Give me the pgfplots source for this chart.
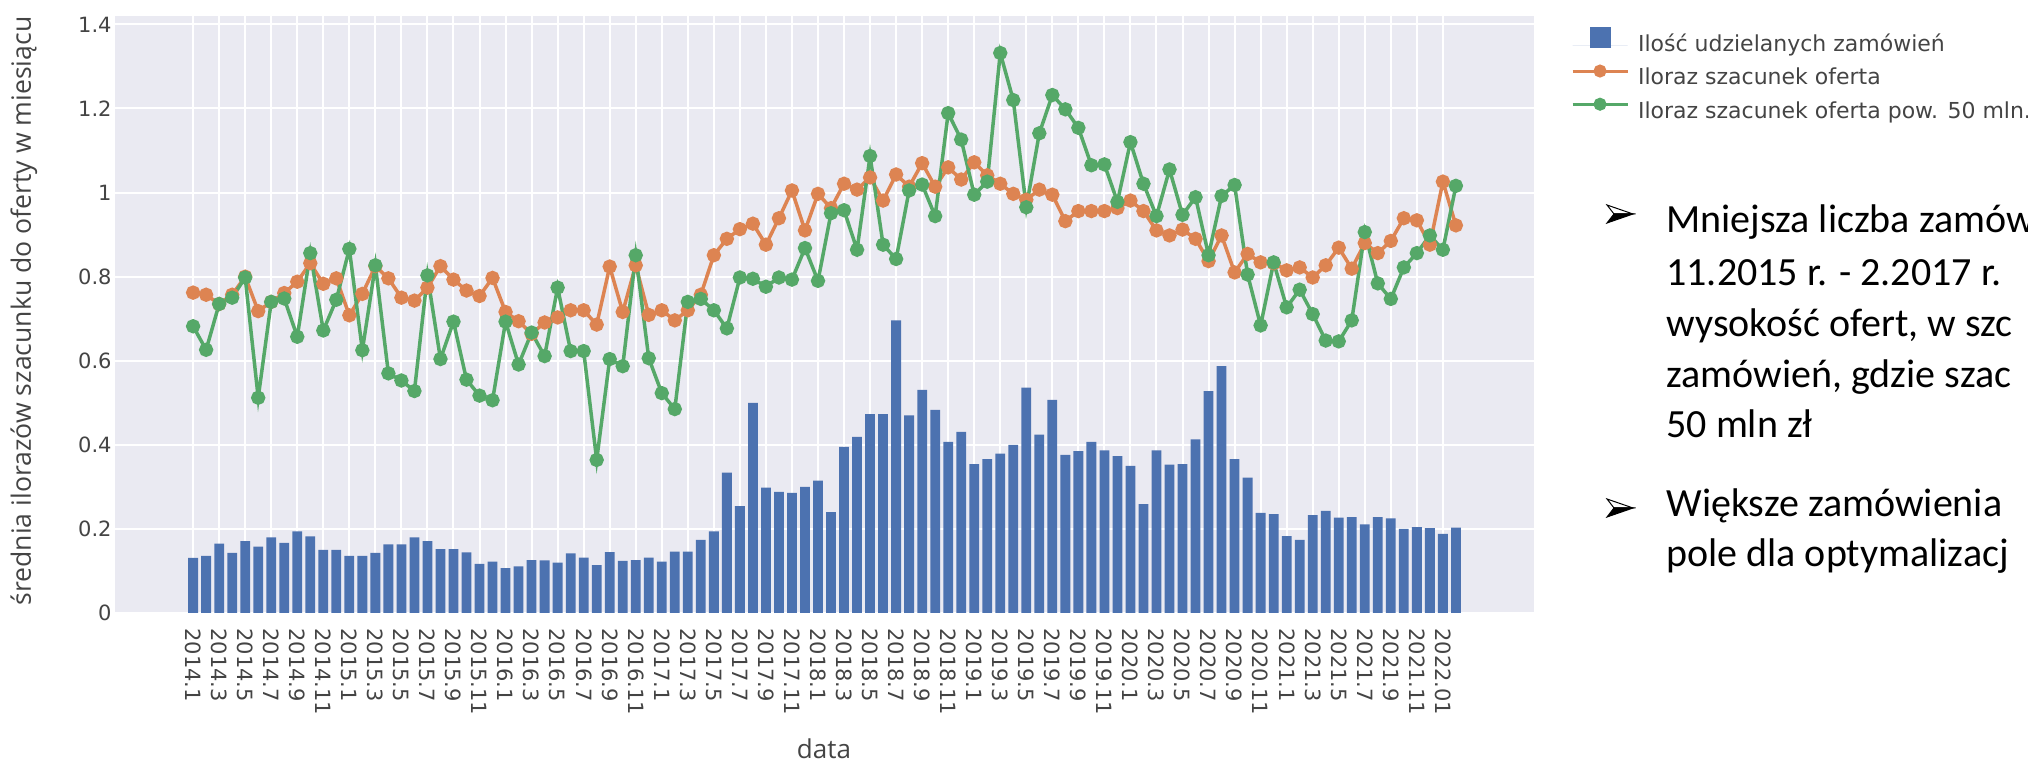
\documentclass[border=0pt]{standalone}
\usepackage{pgfplots}
\pgfplotsset{compat=1.18}
\usepackage{pgfplotstable}
\usepackage{fontspec}
\setmainfont{DejaVu Sans}
\newfontfamily\dejavu{DejaVu Sans}
\newfontfamily\opensans{Open Sans}
\newfontfamily\carlito{Carlito}
\definecolor{plotbg}{HTML}{EAEAF2}
\definecolor{barblue}{HTML}{4C72B0}
\definecolor{lineorange}{HTML}{DD8452}
\definecolor{linegreen}{HTML}{55A868}
\definecolor{tickgray}{HTML}{444444}

\pgfplotsset{
  barlegend/.style={legend image code/.code={\path (0pt,0pt) -- (27.5pt,0pt);
    \fill[barblue] (8.5pt,-1.25pt) rectangle (19pt,9.25pt);}},
  linelegend/.style={legend image code/.code={\draw[##1, mark repeat=2, mark phase=2, line width=1.5pt, mark size=2.5pt]
    plot coordinates {(0pt,4pt) (13.75pt,4pt) (27.5pt,4pt)};}},
}

\pgfplotstableread{
x b o g
0 0.131 0.762 0.682
1 0.136 0.757 0.626
2 0.165 0.735 0.735
3 0.143 0.757 0.750
4 0.171 0.800 0.798
5 0.158 0.718 0.512
6 0.180 0.740 0.740
7 0.167 0.761 0.748
8 0.194 0.788 0.657
9 0.182 0.832 0.856
10 0.150 0.783 0.672
11 0.150 0.796 0.745
12 0.136 0.708 0.866
13 0.136 0.759 0.625
14 0.143 0.825 0.827
15 0.163 0.796 0.570
16 0.163 0.750 0.553
17 0.180 0.743 0.528
18 0.171 0.774 0.803
19 0.152 0.825 0.604
20 0.152 0.793 0.693
21 0.144 0.767 0.555
22 0.117 0.754 0.517
23 0.122 0.797 0.506
24 0.107 0.716 0.693
25 0.111 0.694 0.591
26 0.126 0.664 0.667
27 0.125 0.691 0.611
28 0.120 0.703 0.774
29 0.142 0.720 0.623
30 0.132 0.720 0.623
31 0.114 0.686 0.364
32 0.145 0.824 0.604
33 0.124 0.716 0.587
34 0.126 0.827 0.851
35 0.132 0.709 0.606
36 0.122 0.720 0.523
37 0.146 0.696 0.485
38 0.146 0.720 0.740
39 0.174 0.757 0.747
40 0.194 0.851 0.720
41 0.334 0.890 0.677
42 0.254 0.913 0.798
43 0.500 0.926 0.795
44 0.298 0.876 0.776
45 0.288 0.939 0.798
46 0.286 1.005 0.793
47 0.300 0.910 0.868
48 0.315 0.997 0.790
49 0.240 0.963 0.951
50 0.395 1.021 0.958
51 0.419 1.007 0.864
52 0.473 1.036 1.087
53 0.473 0.981 0.876
54 0.696 1.043 0.842
55 0.470 1.014 1.005
56 0.531 1.070 1.019
57 0.483 1.014 0.944
58 0.407 1.060 1.189
59 0.431 1.031 1.126
60 0.354 1.072 0.995
61 0.366 1.041 1.026
62 0.379 1.021 1.332
63 0.400 0.997 1.220
64 0.536 0.983 0.965
65 0.424 1.007 1.141
66 0.507 0.995 1.232
67 0.376 0.932 1.198
68 0.385 0.956 1.154
69 0.407 0.956 1.065
70 0.387 0.956 1.067
71 0.373 0.963 0.978
72 0.350 0.981 1.120
73 0.259 0.956 1.021
74 0.387 0.910 0.944
75 0.353 0.898 1.055
76 0.354 0.912 0.947
77 0.413 0.890 0.989
78 0.528 0.837 0.851
79 0.587 0.898 0.992
80 0.366 0.810 1.018
81 0.322 0.854 0.805
82 0.238 0.834 0.684
83 0.235 0.832 0.834
84 0.183 0.815 0.727
85 0.174 0.822 0.769
86 0.233 0.798 0.711
87 0.243 0.827 0.648
88 0.227 0.869 0.646
89 0.228 0.819 0.696
90 0.211 0.880 0.906
91 0.228 0.856 0.784
92 0.225 0.885 0.747
93 0.200 0.939 0.822
94 0.204 0.934 0.856
95 0.202 0.876 0.898
96 0.188 1.026 0.864
97 0.203 0.922 1.016
}\datatable

\begin{document}
\begin{tikzpicture}
\path[use as bounding box] (0pt,0pt) rectangle (1014pt,382.5pt);
\begin{axis}[
  at={(57.5pt,76pt)}, anchor=south west,
  scale only axis, width=709.5pt, height=298.5pt,
  xmin=-6, xmax=103, ymin=0, ymax=1.42,
  axis background/.style={fill=plotbg},
  axis line style={draw=none},
  major tick length=0pt,
  grid=major,
  major grid style={white, line width=1pt},
  xtick={0,2,...,96},
  xticklabels={2014.1,2014.3,2014.5,2014.7,2014.9,2014.11,
    2015.1,2015.3,2015.5,2015.7,2015.9,2015.11,
    2016.1,2016.3,2016.5,2016.7,2016.9,2016.11,
    2017.1,2017.3,2017.5,2017.7,2017.9,2017.11,
    2018.1,2018.3,2018.5,2018.7,2018.9,2018.11,
    2019.1,2019.3,2019.5,2019.7,2019.9,2019.11,
    2020.1,2020.3,2020.5,2020.7,2020.9,2020.11,
    2021.1,2021.3,2021.5,2021.7,2021.9,2021.11,
    2022.01},
  ytick={0,0.2,0.4,0.6,0.8,1,1.2,1.4},
  yticklabels={0,0.2,0.4,0.6,0.8,1,1.2,1.4},
  ticklabel style={font=\dejavu\fontsize{10.5}{12}\selectfont, text=tickgray, inner sep=0pt},
  xticklabel style={rotate=-90, anchor=west},
  yticklabel style={anchor=east},
  xticklabel shift=7.5pt, yticklabel shift=1.5pt,
  legend cell align=left,
  legend style={draw=none, fill=none, inner sep=0pt, outer sep=0pt,
    at={(1.02608,0.981)}, anchor=north west,
    font=\dejavu\fontsize{11}{13}\selectfont, text=tickgray,
    row sep=4.6pt, column sep=4.5pt,
    nodes={inner sep=0pt, text height=8.4pt, text depth=2.6pt}},
]
\addplot[ybar, bar width=4.9pt, fill=barblue, draw=none, barlegend]
  table[x=x, y=b]{\datatable};
\addlegendentry{Ilość udzielanych zamówień}
\addplot[color=lineorange, line width=1.75pt, mark=*, mark size=2.7pt, mark options={solid}, linelegend]
  table[x=x, y=o]{\datatable};
\addlegendentry{Iloraz szacunek oferta}
\addplot[color=linegreen, line width=1.75pt, mark=*, mark size=2.7pt, mark options={solid}, linelegend]
  table[x=x, y=g]{\datatable};
\addlegendentry{Iloraz szacunek oferta pow. 50 mln.}
\end{axis}
% axis titles
\node[rotate=90, inner sep=0pt, text=tickgray, font=\opensans\fontsize{13.3}{15}\selectfont]
  at (12pt,227pt) {średnia ilorazów szacunku do oferty w miesiącu};
\node[anchor=base, inner sep=0pt, text=tickgray, font=\opensans\fontsize{13}{15}\selectfont]
  at (412pt,3pt) {data};
% bullet text
\begin{scope}[every node/.style={anchor=base west, inner sep=0pt, font=\carlito\fontsize{20}{24}\selectfont}]
\node at (833pt,266pt) {Mniejsza liczba zamów};
\node at (833pt,239.5pt) {11.2015 r. - 2.2017 r.};
\node at (833pt,214pt) {wysokość ofert, w szc};
\node at (833pt,188.5pt) {zamówień, gdzie szac};
\node at (833pt,163.5pt) {50 mln zł};
\node at (833pt,124pt) {Większe zamówienia};
\node at (833pt,99pt) {pole dla optymalizacj};
\end{scope}
% bullet arrowheads (3D top-lighted style)
\foreach \yc in {275.5pt,128.5pt}{
  \filldraw[fill=white, draw=black, line width=0.5pt, line join=miter]
    (816.5pt,\yc) -- (803.5pt,\yc+4.5pt) -- (807pt,\yc) -- cycle;
  \filldraw[fill=black, draw=black, line width=0.5pt, line join=miter]
    (816.5pt,\yc) -- (807pt,\yc) -- (803.5pt,\yc-4.5pt) -- cycle;
}
\end{tikzpicture}
\end{document}
